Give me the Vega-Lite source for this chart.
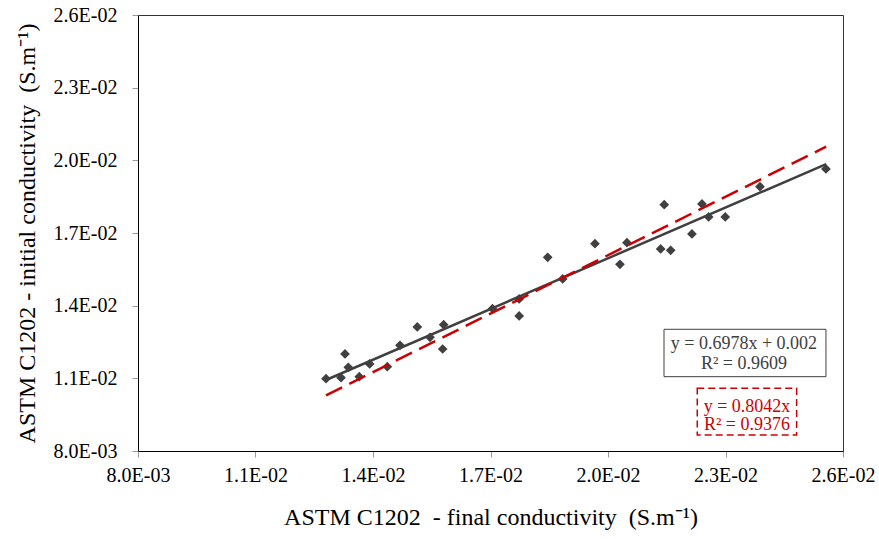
{
  "$schema": "https://vega.github.io/schema/vega-lite/v6.json",
  "width": 705,
  "height": 436,
  "autosize": {"type": "none"},
  "padding": {"left": 138, "top": 15, "right": 36, "bottom": 88},
  "background": "white",
  "config": {
    "font": "Liberation Serif",
    "view": {"stroke": "#333333", "strokeWidth": 1},
    "axis": {
      "grid": false,
      "domainColor": "#000000",
      "domainWidth": 1,
      "tickColor": "#9a9a9a",
      "tickSize": 6,
      "labelColor": "#000000",
      "labelFont": "Liberation Serif",
      "labelFontSize": 20,
      "titleFont": "Liberation Serif",
      "titleFontSize": 24,
      "titleFontWeight": "normal",
      "titleColor": "#000000"
    }
  },
  "datasets": {
    "obs": [
      {"final": 0.01280, "initial": 0.010985},
      {"final": 0.013183, "initial": 0.011026},
      {"final": 0.013285, "initial": 0.012005},
      {"final": 0.013369, "initial": 0.011456},
      {"final": 0.013650, "initial": 0.011068},
      {"final": 0.013915, "initial": 0.011592},
      {"final": 0.014365, "initial": 0.011481},
      {"final": 0.014689, "initial": 0.012364},
      {"final": 0.015131, "initial": 0.013120},
      {"final": 0.015455, "initial": 0.012694},
      {"final": 0.015779, "initial": 0.012211},
      {"final": 0.015804, "initial": 0.013215},
      {"final": 0.017050, "initial": 0.013875},
      {"final": 0.017732, "initial": 0.013574},
      {"final": 0.017732, "initial": 0.014276},
      {"final": 0.018460, "initial": 0.015997},
      {"final": 0.018843, "initial": 0.015102},
      {"final": 0.019667, "initial": 0.016559},
      {"final": 0.020305, "initial": 0.015708},
      {"final": 0.020484, "initial": 0.016600},
      {"final": 0.021344, "initial": 0.016340},
      {"final": 0.021436, "initial": 0.018169},
      {"final": 0.021600, "initial": 0.016287},
      {"final": 0.022143, "initial": 0.016960},
      {"final": 0.022399, "initial": 0.018198},
      {"final": 0.022570, "initial": 0.017661},
      {"final": 0.022993, "initial": 0.017661},
      {"final": 0.023880, "initial": 0.018912},
      {"final": 0.025565, "initial": 0.019643}
    ],
    "linfit": [
      {"final": 0.0128, "initial": 0.010932},
      {"final": 0.02557, "initial": 0.019843}
    ],
    "propfit": [
      {"final": 0.0128, "initial": 0.010294},
      {"final": 0.02557, "initial": 0.020563}
    ],
    "box1": [{"x1": 0.02143, "x2": 0.025565, "y1": 0.013025, "y2": 0.011068}],
    "box2": [{"x1": 0.022279, "x2": 0.024816, "y1": 0.010589, "y2": 0.008661}],
    "text1": [
      {"x": 0.02347, "y": 0.012199, "t": "y = 0.6978x + 0.002"},
      {"x": 0.02347, "y": 0.011373, "t": "R² = 0.9609"}
    ],
    "text2": [
      {"x": 0.023548, "y": 0.009623, "t": "y = 0.8042x"},
      {"x": 0.023548, "y": 0.008867, "t": "R² = 0.9376"}
    ]
  },
  "encoding": {
    "x": {
      "field": "final",
      "type": "quantitative",
      "scale": {"domain": [0.008, 0.026], "nice": false, "zero": false},
      "axis": {
        "title": "ASTM C1202\u00a0\u00a0- final conductivity\u00a0\u00a0(S.m⁻¹)",
        "values": [0.008, 0.011, 0.014, 0.017, 0.020, 0.023, 0.026],
        "labelExpr": "datum.value < 0.0095 ? format(datum.value*1000, '.1f') + 'E-03' : format(datum.value*100, '.1f') + 'E-02'",
        "labelFlush": false,
        "labelOverlap": false,
        "labelPadding": 8,
        "titlePadding": 20,
        "encode": {"labels": {"update": {"font": {"value": "Liberation Serif"}, "fontSize": {"value": 20}}}}
      }
    },
    "y": {
      "field": "initial",
      "type": "quantitative",
      "scale": {"domain": [0.008, 0.026], "nice": false, "zero": false},
      "axis": {
        "title": "ASTM C1202 - initial conductivity\u00a0\u00a0(S.m⁻¹)",
        "values": [0.008, 0.011, 0.014, 0.017, 0.020, 0.023, 0.026],
        "labelExpr": "datum.value < 0.0095 ? format(datum.value*1000, '.1f') + 'E-03' : format(datum.value*100, '.1f') + 'E-02'",
        "labelFlush": false,
        "labelOverlap": false,
        "labelPadding": 15,
        "titlePadding": 14,
        "encode": {"labels": {"update": {"font": {"value": "Liberation Serif"}, "fontSize": {"value": 20}}}}
      }
    }
  },
  "layer": [
    {
      "data": {"name": "obs"},
      "mark": {"type": "point", "shape": "diamond", "filled": true, "size": 95, "color": "#404040", "opacity": 1}
    },
    {
      "data": {"name": "linfit"},
      "mark": {"type": "line", "color": "#404040", "strokeWidth": 2.5}
    },
    {
      "data": {"name": "propfit"},
      "mark": {"type": "line", "color": "#cc0000", "strokeWidth": 2.5, "strokeDash": [18, 8]}
    },
    {
      "data": {"name": "box1"},
      "mark": {"type": "rect", "fill": "white", "stroke": "#404040", "strokeWidth": 1},
      "encoding": {
        "x": {"field": "x1", "type": "quantitative"},
        "x2": {"field": "x2"},
        "y": {"field": "y1", "type": "quantitative"},
        "y2": {"field": "y2"}
      }
    },
    {
      "data": {"name": "box2"},
      "mark": {"type": "rect", "fill": "white", "stroke": "#cc0000", "strokeWidth": 1.5, "strokeDash": [7, 4]},
      "encoding": {
        "x": {"field": "x1", "type": "quantitative"},
        "x2": {"field": "x2"},
        "y": {"field": "y1", "type": "quantitative"},
        "y2": {"field": "y2"}
      }
    },
    {
      "data": {"name": "text1"},
      "mark": {"type": "text", "font": "Liberation Serif", "fontSize": 18, "color": "#404040", "align": "center", "baseline": "alphabetic"},
      "encoding": {
        "x": {"field": "x", "type": "quantitative"},
        "y": {"field": "y", "type": "quantitative"},
        "text": {"field": "t"}
      }
    },
    {
      "data": {"name": "text2"},
      "mark": {"type": "text", "font": "Liberation Serif", "fontSize": 18, "color": "#cc0000", "align": "center", "baseline": "alphabetic"},
      "encoding": {
        "x": {"field": "x", "type": "quantitative"},
        "y": {"field": "y", "type": "quantitative"},
        "text": {"field": "t"}
      }
    }
  ]
}
